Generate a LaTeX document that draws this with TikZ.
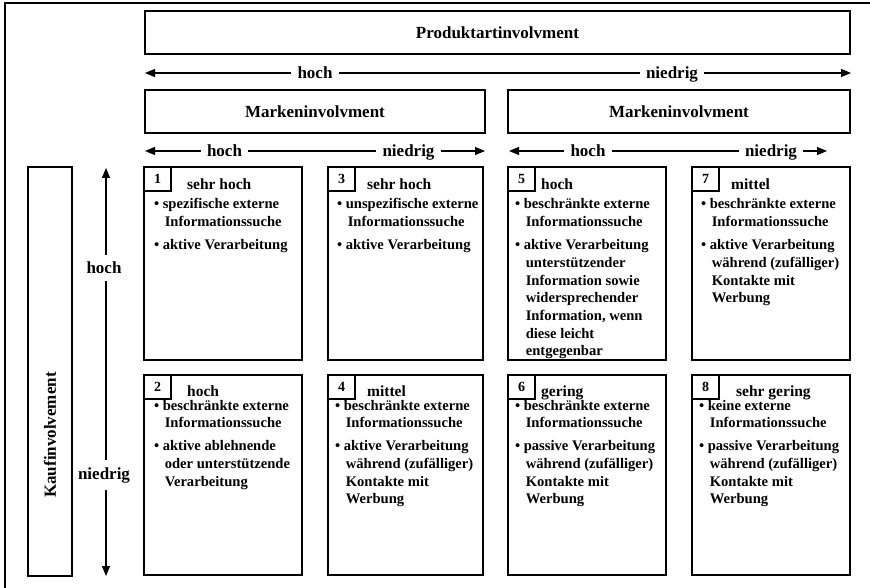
\documentclass[tikz,border=0pt]{standalone}
\usepackage{fontspec}
\setmainfont{Liberation Serif}
\usetikzlibrary{arrows.meta}
\newcommand\blist[1]{\begin{tabular}[t]{@{}l@{\hspace{3.5pt}}l@{}}#1\end{tabular}}
\tikzset{
  ln/.style={line width=1.2pt},
  box/.style={draw, line width=1.2pt, inner sep=0pt, outer sep=0pt},
  headtxt/.style={font=\fontsize{17}{20}\selectfont\bfseries},
  lbl/.style={font=\fontsize{17}{20}\selectfont\bfseries, inner ysep=0pt, inner xsep=6pt},
  vlbl/.style={font=\fontsize{17}{20}\selectfont\bfseries, inner ysep=7pt, inner xsep=0pt},
  numbox/.style={box, minimum width=27pt, minimum height=24pt, font=\fontsize{14}{16}\selectfont\bfseries},
  ttl/.style={font=\fontsize{15.5}{18}\selectfont\bfseries, inner sep=0pt},
  body/.style={font=\fontsize{14.6}{17.7}\selectfont\bfseries, inner sep=0pt},
  cellbox/.style={box, anchor=north west},
  arr/.style={line width=1.1pt, -{Triangle[length=10pt,width=8pt]}},
}
\begin{document}
\begin{tikzpicture}[x=1pt,y=-1pt]
\useasboundingbox (0,0) rectangle (870,588);
% frame
\draw[ln] (5,588) -- (5,3) -- (870,3);
% top box
\node[box, minimum width=705pt, minimum height=43pt, headtxt] (prod) at (497.5,32.5) {Produktartinvolvment};
% top arrow
\coordinate (a1l) at (145,73);
\coordinate (a1r) at (851,73);
\node[lbl, anchor=base] (h1) at (315,79) {hoch};
\node[lbl, anchor=base] (n1) at (672,79) {niedrig};
\draw[arr] (h1.west |- a1l) -- (a1l);
\draw[ln] (h1.east |- a1l) -- (n1.west |- a1l);
\draw[arr] (n1.east |- a1l) -- (a1r);
% marken boxes
\node[box, minimum width=340pt, minimum height=43pt, headtxt] (mk1) at (315,111.5) {Markeninvolvment};
\node[box, minimum width=342pt, minimum height=43pt, headtxt] (mk2) at (679,111.5) {Markeninvolvment};
% second arrows
\coordinate (a2l) at (145,151);
\coordinate (a2r) at (485,151);
\node[lbl, anchor=base] (h2) at (224.5,157) {hoch};
\node[lbl, anchor=base] (n2) at (408.5,157) {niedrig};
\draw[arr] (h2.west |- a2l) -- (a2l);
\draw[ln] (h2.east |- a2l) -- (n2.west |- a2l);
\draw[arr] (n2.east |- a2l) -- (a2r);
\coordinate (a3l) at (509,151);
\coordinate (a3r) at (827,151);
\node[lbl, anchor=base] (h3) at (588,157) {hoch};
\node[lbl, anchor=base] (n3) at (771,157) {niedrig};
\draw[arr] (h3.west |- a3l) -- (a3l);
\draw[ln] (h3.east |- a3l) -- (n3.west |- a3l);
\draw[arr] (n3.east |- a3l) -- (a3r);
% Kaufinvolvement
\node[box, minimum width=44pt, minimum height=409pt, anchor=north west] (kbox) at (28,167) {};
\node[headtxt, rotate=90, inner sep=0pt] (ktxt) at (50,435) {Kaufinvolvement};
% vertical arrow
\coordinate (vt) at (106,168);
\coordinate (vb) at (106,576);
\node[vlbl] (vh) at (104,268) {hoch};
\node[vlbl] (vn) at (104,475) {niedrig};
\draw[arr] (vt |- vh.north) -- (vt);
\draw[ln] (vt |- vh.south) -- (vt |- vn.north);
\draw[arr] (vt |- vn.south) -- (vb);
% cells row 1
\node[cellbox, minimum width=158pt, minimum height=193pt] (c1) at (144,167) {};
\node[cellbox, minimum width=155pt, minimum height=193pt] (c3) at (328,167) {};
\node[cellbox, minimum width=158pt, minimum height=193pt] (c5) at (508,167) {};
\node[cellbox, minimum width=158pt, minimum height=193pt] (c7) at (692,167) {};
% cells row 2
\node[cellbox, minimum width=158pt, minimum height=200pt] (c2) at (144,375) {};
\node[cellbox, minimum width=155pt, minimum height=200pt] (c4) at (328,375) {};
\node[cellbox, minimum width=158pt, minimum height=200pt] (c6) at (508,375) {};
\node[cellbox, minimum width=158pt, minimum height=200pt] (c8) at (692,375) {};
% numbers
\foreach \i in {1,...,8} {
  \node[numbox, anchor=north west] (c\i n) at (c\i.north west) {\i};
}
% titles
\node[ttl, anchor=base west] (c1t) at ([shift={(43pt,-23pt)}]c1.north west) {sehr hoch};
\node[ttl, anchor=base west] (c3t) at ([shift={(39pt,-23pt)}]c3.north west) {sehr hoch};
\node[ttl, anchor=base west] (c5t) at ([shift={(33pt,-23pt)}]c5.north west) {hoch};
\node[ttl, anchor=base west] (c7t) at ([shift={(39pt,-23pt)}]c7.north west) {mittel};
\node[ttl, anchor=base west] (c2t) at ([shift={(43pt,-21pt)}]c2.north west) {hoch};
\node[ttl, anchor=base west] (c4t) at ([shift={(39pt,-21pt)}]c4.north west) {mittel};
\node[ttl, anchor=base west] (c6t) at ([shift={(33pt,-21pt)}]c6.north west) {gering};
\node[ttl, anchor=base west] (c8t) at ([shift={(44pt,-21pt)}]c8.north west) {sehr gering};
% bodies row 1
\node[body, anchor=base west] (c1b) at ([shift={(10pt,-42pt)}]c1.north west) {\blist{%
\textbullet & spezifische externe\\ & \hspace{2pt}Informationssuche\\[5.3pt]
\textbullet & aktive Verarbeitung}};
\node[body, anchor=base west] (c3b) at ([shift={(9pt,-42pt)}]c3.north west) {\blist{%
\textbullet & unspezifische externe\\ & \hspace{2pt}Informationssuche\\[5.3pt]
\textbullet & aktive Verarbeitung}};
\node[body, anchor=base west] (c5b) at ([shift={(7pt,-42pt)}]c5.north west) {\blist{%
\textbullet & beschränkte externe\\ & \hspace{2pt}Informationssuche\\[5.3pt]
\textbullet & aktive Verarbeitung\\ & \hspace{2pt}unterstützender\\ & \hspace{2pt}Information sowie\\ & \hspace{2pt}widersprechender\\ & \hspace{2pt}Information, wenn\\ & \hspace{2pt}diese leicht\\ & \hspace{2pt}entgegenbar}};
\node[body, anchor=base west] (c7b) at ([shift={(9pt,-42pt)}]c7.north west) {\blist{%
\textbullet & beschränkte externe\\ & \hspace{2pt}Informationssuche\\[5.3pt]
\textbullet & aktive Verarbeitung\\ & \hspace{2pt}während (zufälliger)\\ & \hspace{2pt}Kontakte mit\\ & \hspace{2pt}Werbung}};
% bodies row 2
\node[body, anchor=base west] (c2b) at ([shift={(10pt,-35pt)}]c2.north west) {\blist{%
\textbullet & beschränkte externe\\ & \hspace{2pt}Informationssuche\\[5.3pt]
\textbullet & aktive ablehnende\\ & \hspace{2pt}oder unterstützende\\ & \hspace{2pt}Verarbeitung}};
\node[body, anchor=base west] (c4b) at ([shift={(7pt,-35pt)}]c4.north west) {\blist{%
\textbullet & beschränkte externe\\ & \hspace{2pt}Informationssuche\\[5.3pt]
\textbullet & aktive Verarbeitung\\ & \hspace{2pt}während (zufälliger)\\ & \hspace{2pt}Kontakte mit\\ & \hspace{2pt}Werbung}};
\node[body, anchor=base west] (c6b) at ([shift={(7pt,-35pt)}]c6.north west) {\blist{%
\textbullet & beschränkte externe\\ & \hspace{2pt}Informationssuche\\[5.3pt]
\textbullet & passive Verarbeitung\\ & \hspace{2pt}während (zufälliger)\\ & \hspace{2pt}Kontakte mit\\ & \hspace{2pt}Werbung}};
\node[body, anchor=base west] (c8b) at ([shift={(7pt,-35pt)}]c8.north west) {\blist{%
\textbullet & keine externe\\ & \hspace{2pt}Informationssuche\\[5.3pt]
\textbullet & passive Verarbeitung\\ & \hspace{2pt}während (zufälliger)\\ & \hspace{2pt}Kontakte mit\\ & \hspace{2pt}Werbung}};
\end{tikzpicture}
\end{document}
